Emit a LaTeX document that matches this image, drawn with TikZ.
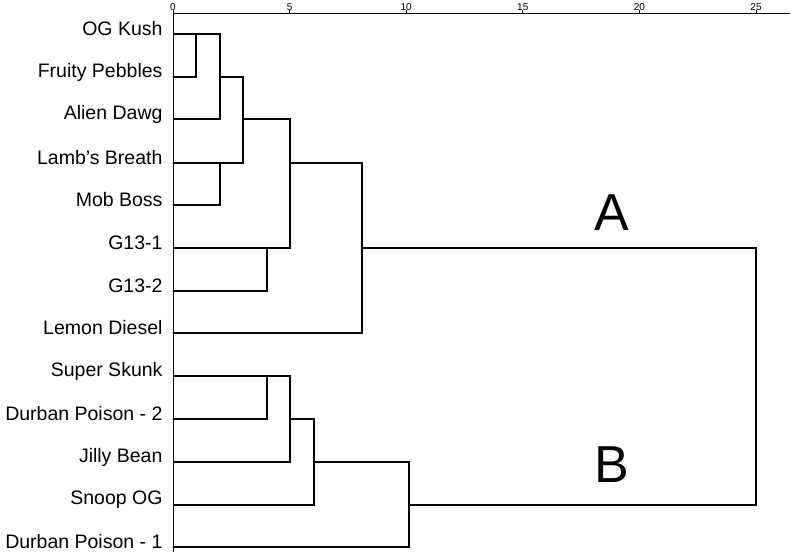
\documentclass[tikz,border=0pt]{standalone}
\usepackage{fontspec}
\setmainfont{Liberation Sans}
\usetikzlibrary{positioning}

\begin{document}
\begin{tikzpicture}[
        x=1pt, y=-1pt,
        leaf/.style={anchor=east, font=\fontsize{19.5}{20}\selectfont},
        tick/.style={font=\fontsize{10}{10}\selectfont, anchor=south, inner sep=0pt},
        branch/.style={line width=1.1pt, line join=miter},
        group/.style={font=\fontsize{52}{54}\selectfont}
    ]
        \useasboundingbox (0,0) rectangle (792,558);

        % Scale
        \draw[line width=0.9pt] (173,13) -- (790,13);
        \foreach \v in {0,5,...,25} {
            \coordinate (t\v) at ({173+23.32*\v},13);
            \draw[line width=0.9pt] (t\v) -- ++(0,-3);
            \node[tick] at ([yshift=2.5pt]t\v) {\v};
        }
        \draw[line width=0.9pt] (173,13) -- (173,552);

        % Leaves
        \foreach \i/\y/\name in {1/34/OG Kush, 2/77/Fruity Pebbles, 3/119/Alien Dawg,
                4/163/Lamb’s Breath, 5/205/Mob Boss, 6/248/G13-1, 7/291/G13-2,
                8/333/Lemon Diesel, 9/376/Super Skunk, 10/419/Durban Poison - 2,
                11/462/Jilly Bean, 12/505/Snoop OG, 13/547/Durban Poison - 1} {
            \coordinate (l\i) at (173,\y);
            \node[leaf] (n\i) at (166,\y-5) {\name};
        }

        % Cluster A
        \draw[branch] (l1) -| (196,77) -- (l2);
        \draw[branch] (196,34) -- (220,34) |- (l3);
        \draw[branch] (l4) -| (220,205) -- (l5);
        \draw[branch] (220,77) -| (243,163) -- (220,163);
        \draw[branch] (243,119) -| (290,248) -- (l6);
        \draw[branch] (l6) -| (267,291) -- (l7);
        \draw[branch] (290,163) -| (362,333) -- (l8);

        % Cluster B
        \draw[branch] (l9) -| (267,419) -- (l10);
        \draw[branch] (267,376) -| (290,462) -- (l11);
        \draw[branch] (290,419) -| (314,505) -- (l12);
        \draw[branch] (314,462) -| (409,547) -- (l13);

        % Join
        \draw[branch] (362,248) -| (756,505) -- (409,505);

        \node[group] (ga) at (612,213) {A};
        \node[group] (gb) at (612,465) {B};
    \end{tikzpicture}
\end{document}
